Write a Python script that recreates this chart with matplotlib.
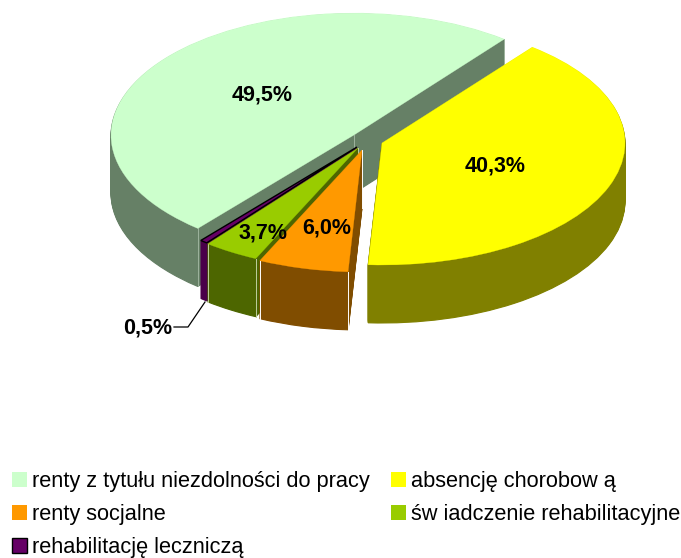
import matplotlib
matplotlib.use("Agg")
import matplotlib.pyplot as plt
import numpy as np
from matplotlib.patches import Patch

plt.rcParams['font.family'] = ['Liberation Sans', 'DejaVu Sans']

labels = ["renty z tytułu niezdolności do pracy", "absencję chorobow ą", "renty socjalne",
          "św iadczenie rehabilitacyjne", "rehabilitację leczniczą"]
values = [49.5, 40.3, 6.0, 3.7, 0.5]
value_labels = ["49,5%", "40,3%", "6,0%", "3,7%", "0,5%"]

top_colors = ["#CCFFCC", "#FFFF00", "#FF9900", "#99CC00", "#660066"]
side_colors = ["#668066", "#808000", "#804D00", "#4D6600", "#4A004A"]
edge_colors = {0: "#9DB39D", 2: "#FFFFFF", 3: "#BFCF9F"}

# pixel layout of the picture
RX, RY = 243, 122
DEPTH = 58
START = 230
apex = [(354, 135), (382, 143), (362, 150), (358, 148), (357, 147)]
label_pos = [(262, 95), (495, 166), (327, 228), (263, 233), (148, 328)]
draw_order = [0, 1, 4, 3, 2]  # back to front


def to_data(px, py):
    return px / RX, -py / RY


fig = plt.figure(figsize=(6.81, 5.58), dpi=100)
ax = fig.add_axes([0, 0, 1, 1])


def draw_slice(i, px, py, color, edge, lw):
    wedges, _ = ax.pie(values, center=to_data(px, py), startangle=START, counterclock=False,
                       colors=[color] * len(values), wedgeprops=dict(edgecolor=edge, linewidth=lw))
    for j, w in enumerate(wedges):
        if j != i:
            w.remove()


# light vertical lines where the side faces meet
def draw_edges(i, px, py):
    before = sum(values[:i]) / sum(values) * 360
    after = sum(values[:i + 1]) / sum(values) * 360
    corners = [(px, py)]
    for a in (START - before, START - after):
        corners.append((px + RX * np.cos(np.radians(a)), py - RY * np.sin(np.radians(a))))
    for cx, cy in corners:
        lx, ly = zip(to_data(cx, cy), to_data(cx, cy + DEPTH))
        ax.plot(lx, ly, color=edge_colors[i], lw=0.7, zorder=1)


for i in draw_order:
    px, py = apex[i]
    for d in range(DEPTH, 0, -1):
        draw_slice(i, px, py + d, side_colors[i], side_colors[i], 0.8)
    if i in edge_colors:
        draw_edges(i, px, py)
    if i == 4:
        draw_slice(i, px, py, top_colors[i], "black", 1.0)
    else:
        draw_slice(i, px, py, top_colors[i], top_colors[i], 0.2)

ax.set_aspect('auto')
ax.set_xlim(0, 681 / RX)
ax.set_ylim(-558 / RY, 0)
ax.set_axis_off()

for txt, (px, py) in zip(value_labels, label_pos):
    x, y = to_data(px, py)
    ax.text(x, y, txt, ha='center', va='center', fontsize=15.5, fontweight='bold', color='black')

# leader line of the smallest slice
lx, ly = zip(to_data(174, 327), to_data(188, 327), to_data(205, 302))
ax.plot(lx, ly, color='black', lw=0.9)

handles = [Patch(facecolor=c, edgecolor='none') for c in top_colors[:4]]
handles.append(Patch(facecolor=top_colors[4], edgecolor='black', linewidth=1))
order = [0, 2, 4, 1, 3]
ax.legend([handles[k] for k in order], [labels[k] for k in order], ncol=2, frameon=False,
          loc='upper left', bbox_to_anchor=(0.0, 1 - 459 / 558), borderaxespad=0.15, borderpad=0.4,
          fontsize=15.7, handlelength=0.68, handleheight=0.68, handletextpad=0.25,
          labelspacing=0.55, columnspacing=0.95)

fig.savefig("out.png", dpi=100)
